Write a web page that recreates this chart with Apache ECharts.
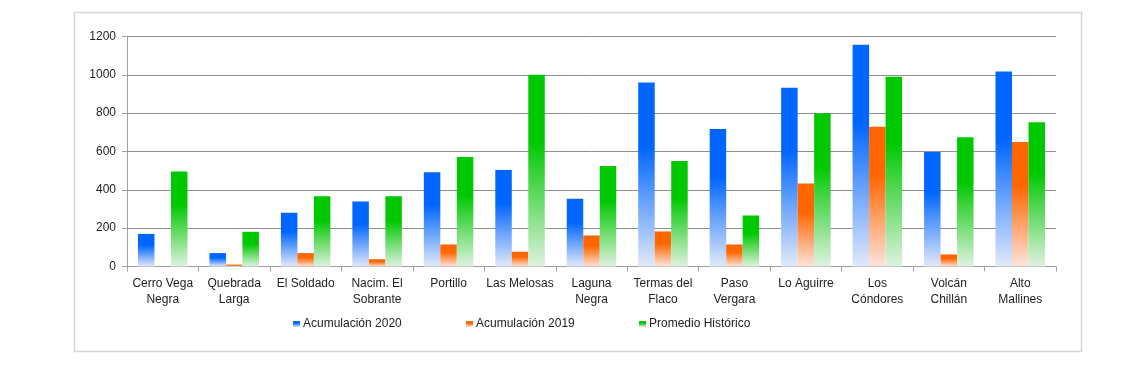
<!DOCTYPE html>
<html>
<head>
<meta charset="utf-8">
<script src="https://cdn.jsdelivr.net/npm/echarts@6/dist/echarts.min.js"></script>
<style>
html,body{margin:0;padding:0;background:#fff;}
#c{width:1143px;height:367px;}
</style>
</head>
<body>
<div id="c"></div>
<script>
const categories = ["Cerro Vega\nNegra","Quebrada\nLarga","El Soldado","Nacim. El\nSobrante","Portillo","Las Melosas","Laguna\nNegra","Termas del\nFlaco","Paso\nVergara","Lo Aguirre","Los\nCóndores","Volcán\nChillán","Alto\nMallines"];
const acum2020 = [170, 70, 280, 339, 492, 504, 353, 960, 717, 932, 1157, 597, 1017];
const acum2019 = [0, 10, 70, 38, 115, 77, 162, 183, 115, 433, 729, 63, 649];
const promedio = [496, 181, 367, 367, 571, 1000, 525, 551, 266, 800, 990, 675, 753];
const seriesNames = ["Acumulación 2020","Acumulación 2019","Promedio Histórico"];
const yTicks = {min:0, max:1200, interval:200};

const FONT = "Liberation Sans";
function grad(top, pale){
  return new echarts.graphic.LinearGradient(0,0,0,1,[
    {offset:0,color:top},{offset:0.35,color:top},{offset:1,color:pale}
  ]);
}
const colors = [["#0066FF","#e2e9f9"],["#FF6600","#fde4dc"],["#00C800","#dff2e0"]];
const dataSets = [acum2020, acum2019, promedio];

const chart = echarts.init(document.getElementById('c'), null, {renderer:'canvas'});
const legendLefts = [293, 466, 639];
chart.setOption({
  animation:false,
  backgroundColor:'#fff',
  textStyle:{fontFamily:FONT},
  graphic:[{type:'rect',shape:{x:74.5,y:12.5,width:1007,height:339},style:{fill:'none',stroke:'#d6d6d6',lineWidth:1.5},silent:true}],
  grid:{left:127,right:87,top:36.5,bottom:100.5,containLabel:false},
  legend: seriesNames.map((n,i)=>({
    data:[{name:n,icon:'rect'}],
    left:legendLefts[i], top:318, padding:0,
    itemWidth:7,itemHeight:6,
    textStyle:{fontFamily:FONT,fontSize:12,color:'#222',padding:[0,0,0,-2]}
  })),
  xAxis:{
    type:'category',data:categories,boundaryGap:true,
    axisLine:{lineStyle:{color:'#a0a0a0',width:1}},
    axisTick:{show:true,length:5,lineStyle:{color:'#a0a0a0'},alignWithLabel:false},
    axisLabel:{interval:0,fontFamily:FONT,fontSize:12,color:'#222',lineHeight:16,margin:9}
  },
  yAxis:{
    type:'value',min:yTicks.min,max:yTicks.max,interval:yTicks.interval,
    axisLine:{show:true,lineStyle:{color:'#a0a0a0'}},
    axisTick:{show:true,length:5,lineStyle:{color:'#a0a0a0'}},
    splitLine:{lineStyle:{color:'#8f8f8f',width:1}},
    axisLabel:{fontFamily:FONT,fontSize:12,color:'#222',margin:11,formatter:function(v){return String(v);}}
  },
  series: seriesNames.map((n,i)=>({
    name:n,type:'bar',data:dataSets[i],
    barWidth:16.5,barGap:'0%',
    itemStyle:{color:grad(colors[i][0],colors[i][1])}
  }))
});
</script>
</body>
</html>
